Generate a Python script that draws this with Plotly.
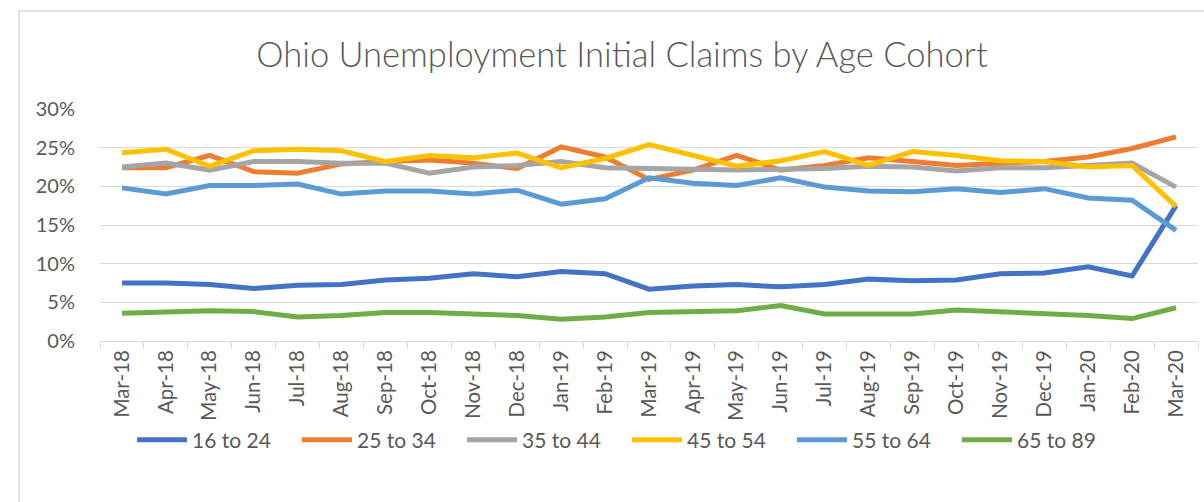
import plotly.graph_objects as go

months = ["Mar-18", "Apr-18", "May-18", "Jun-18", "Jul-18", "Aug-18", "Sep-18", "Oct-18",
          "Nov-18", "Dec-18", "Jan-19", "Feb-19", "Mar-19", "Apr-19", "May-19", "Jun-19",
          "Jul-19", "Aug-19", "Sep-19", "Oct-19", "Nov-19", "Dec-19", "Jan-20", "Feb-20", "Mar-20"]

age_16_24 = [7.5, 7.5, 7.3, 6.8, 7.2, 7.3, 7.9, 8.1, 8.7, 8.3, 9.0, 8.7, 6.7, 7.1, 7.3, 7.0,
             7.3, 8.0, 7.8, 7.9, 8.7, 8.8, 9.6, 8.4, 17.5]
age_25_34 = [22.4, 22.4, 24.0, 21.9, 21.7, 22.9, 23.2, 23.4, 23.0, 22.3, 25.1, 23.8, 20.9, 22.1,
             24.0, 22.1, 22.7, 23.7, 23.2, 22.7, 23.0, 23.2, 23.8, 24.9, 26.4]
age_35_44 = [22.5, 23.0, 22.1, 23.2, 23.2, 23.0, 23.0, 21.7, 22.5, 22.7, 23.2, 22.4, 22.3, 22.2,
             22.1, 22.2, 22.3, 22.6, 22.5, 22.0, 22.4, 22.4, 22.7, 23.0, 19.9]
age_45_54 = [24.35, 24.8, 22.6, 24.6, 24.8, 24.6, 23.2, 24.0, 23.7, 24.3, 22.4, 23.6, 25.4, 24.0,
             22.6, 23.3, 24.5, 22.7, 24.5, 24.0, 23.3, 23.2, 22.5, 22.7, 17.4]
age_55_64 = [19.8, 19.0, 20.1, 20.1, 20.3, 19.0, 19.4, 19.4, 19.0, 19.5, 17.7, 18.4, 21.1, 20.4,
             20.1, 21.1, 19.9, 19.4, 19.3, 19.7, 19.2, 19.7, 18.5, 18.2, 14.3]
age_65_89 = [3.6, 3.7, 3.9, 3.8, 3.1, 3.3, 3.7, 3.7, 3.5, 3.3, 2.8, 3.1, 3.7, 3.8, 3.9, 4.6,
             3.5, 3.5, 3.5, 4.0, 3.8, 3.5, 3.3, 2.9, 4.3]

series_names = ["16 to 24", "25 to 34", "35 to 44", "45 to 54", "55 to 64", "65 to 89"]
series_values = [age_16_24, age_25_34, age_35_44, age_45_54, age_55_64, age_65_89]
series_colors = ["#4472C4", "#ED7D31", "#A5A5A5", "#FFC000", "#5B9BD5", "#70AD47"]
y_ticks = [0, 5, 10, 15, 20, 25, 30]
y_tick_labels = ["0%", "5%", "10%", "15%", "20%", "25%", "30%"]

FONT = "Lato"
TXT = "#595959"
GRID = "#D9D9D9"

fig = go.Figure()
for name, vals, col in zip(series_names, series_values, series_colors):
    fig.add_trace(go.Scatter(x=months, y=vals, name=name, mode="lines",
                             line=dict(color=col, width=5)))

W, H = 1204, 502
L, R, T, B = 100, 6, 109, 161
pw, ph = W - L - R, H - T - B

fig.update_layout(
    width=W, height=H,
    margin=dict(l=L, r=R, t=T, b=B, autoexpand=False),
    paper_bgcolor="white", plot_bgcolor="white",
    font=dict(family=FONT, color=TXT, size=18),
    title=dict(text="Ohio Unemployment Initial Claims by Age Cohort",
               x=622 / W, xanchor="center", xref="container",
               y=1 - 55 / H, yanchor="middle", yref="container",
               font=dict(family=FONT, size=34.5, color=TXT, weight=300)),
    xaxis=dict(type="category", tickson="boundaries", ticks="outside", ticklen=7,
               tickcolor=GRID, tickwidth=1, showline=True, linecolor=GRID, linewidth=1,
               showgrid=False, tickangle=-90, tickfont=dict(size=20.5, color=TXT),
               range=[-0.5, len(months) - 0.5], automargin=False),
    yaxis=dict(range=[0, 30], tickvals=y_ticks, ticktext=y_tick_labels, showgrid=True,
               gridcolor=GRID, gridwidth=1, zeroline=False, showline=False,
               ticks="outside", ticklen=20, tickcolor="rgba(0,0,0,0)",
               tickfont=dict(size=20, color=TXT), automargin=False),
    legend=dict(orientation="h", x=(132 - L) / pw, xanchor="left",
                y=(341 - 440) / ph, yanchor="middle", entrywidth=100, itemwidth=50,
                font=dict(size=21, color=TXT), bgcolor="rgba(0,0,0,0)"),
    shapes=[dict(type="rect", xref="paper", yref="paper",
                 x0=(19 - L) / pw, x1=(1230 - L) / pw,
                 y0=(341 - 530) / ph, y1=(341 - 11) / ph,
                 line=dict(color=GRID, width=1.5), fillcolor="rgba(0,0,0,0)", layer="below")],
)

fig.write_html("out.html", config={"displayModeBar": False},
               post_script="document.body.style.margin='0';")
